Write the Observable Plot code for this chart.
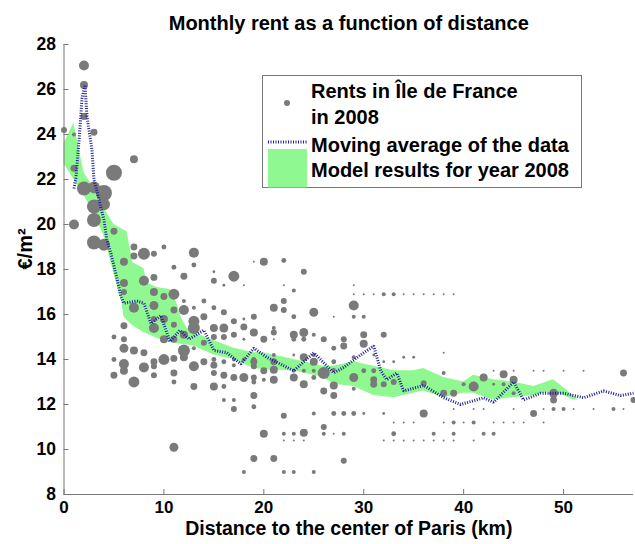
<!DOCTYPE html>
<html>
<head>
<meta charset="utf-8">
<script src="https://cdn.jsdelivr.net/npm/d3@7"></script>
<script src="https://cdn.jsdelivr.net/npm/@observablehq/plot@0.6"></script>
<style>
  body { margin: 0; background: #fff; }
  #wrap { position: relative; width: 635px; height: 544px; font-family: "Liberation Sans", Arial, sans-serif; }
  #legend { position: absolute; left: 262px; top: 75px; width: 320px; height: 113px; }
</style>
</head>
<body>
<div id="wrap">
  <div id="chart"></div>
  <div id="legend">
    <svg width="320" height="113" style="position:absolute;left:0;top:0" font-family="Liberation Sans, Arial, sans-serif" font-weight="bold" font-size="20">
      <rect x="0.5" y="0.5" width="319" height="112" fill="#fff" stroke="#777"/>
      <circle cx="25" cy="28" r="3" fill="#7a7a7a"/>
      <line x1="6" x2="45" y1="67" y2="67" stroke="#1c1c9c" stroke-width="3" stroke-dasharray="1,1.5"/>
      <rect x="6" y="74" width="39" height="38.5" fill="#90f890"/>
      <text x="49" y="23">Rents in Île de France</text>
      <text x="49" y="49">in 2008</text>
      <text x="49" y="77">Moving average of the data</text>
      <text x="49" y="102">Model results for year 2008</text>
    </svg>
  </div>
</div>
<script>
// ---- data ----
const titleText = "Monthly rent as a function of distance";
const xLabel = "Distance to the center of Paris (km)";
const yLabel = "€/m²";
const xTicks = [0, 10, 20, 30, 40, 50];
const yTicks = [8, 10, 12, 14, 16, 18, 20, 22, 24, 26, 28];

// observed rents: [distance km, rent €/m², weight]
const rents = [
  [2,27.07,25],[2,26.2,16],[2,24.8,12],[0,24.2,9],[1,24.0,4],[3,24.1,12],[7,22.9,16],[1,22.5,12],[5,22.3,64],
  [2,21.6,49],[3,21.65,36],[4,21.4,64],[3,20.8,49],[4,20.9,36],[1,20.0,25],[3,20.2,49],[5,19.7,12],[3,19.2,49],[4,19.1,36],
  [7,19.0,12],[8,18.7,36],[7,18.6,12],[9,18.7,9],[10,19.0,6],[13,18.75,25],[6,18.35,16],[11,18.1,6],[13,18.2,6],
  [17,17.7,30],[15,17.9,2],[15,17.5,9],[16,17.3,2],[12,17.7,12],[9,17.65,12],[8,17.5,25],[6,17.4,16],[18,17.3,1],
  [9,17.0,16],[11,16.9,30],[10,16.8,12],[6,17.0,9],[12,16.6,4],[14,16.6,6],[7,16.3,25],[9,16.4,20],[12,16.2,25],
  [11,16.2,12],[13,16.3,4],[15,16.3,6],[16,16.1,9],
  [10,15.8,16],[9,15.8,9],[13,15.7,30],[14,15.9,12],[17,15.7,9],[18,15.8,2],[19,15.9,4],
  [6,15.5,12],[9,15.4,25],[11,15.55,9],[13,15.4,36],[15,15.4,16],[16,15.4,20],[18,15.45,12],[19,15.2,12],
  [5,15.0,6],[6,14.9,9],[10,14.9,16],[11,14.9,12],[12,15.1,16],[15,15.0,9],[16,15.0,9],[17,15.1,9],[18,14.9,2],[19,15.1,2],[14,14.75,9],
  [6,14.5,20],[7,14.4,16],[8,14.3,12],[12,14.4,36],[13,14.5,4],
  [5,14.0,6],[9,13.9,12],[10,14.0,30],[11,14.05,12],[12,14.1,16],[14,13.9,12],[15,14.0,6],[16,13.9,6],[17,14.0,4],[18,14.0,4],[19,14.0,6],
  [6,13.8,25],[8,13.65,25],[9,13.7,9],[13,13.7,25],[15,13.75,12],[17,13.75,4],
  [5,13.3,12],[6,13.5,16],[9,13.3,9],[11,13.4,12],[15,13.4,9],[16,13.3,12],[17,13.2,12],[18,13.2,20],
  [7,13.0,30],[11,13.0,6],[13,12.8,12],[15,12.8,16],[16,12.8,6],[19,13.0,6],
  [16,12.2,4],[17,12.2,4],[17,11.8,9],[19,11.9,6],[11,10.1,20],[18,9.0,4],
  [20,18.35,16],[22,18.4,6],[19,18.35,1],[24,17.9,9],[22,17.3,1],[29,17.3,1],[23,17.07,4],
  [29,16.9,1],[30,16.9,1],[31,16.9,1],[32,16.9,4],[33,16.9,4],[34,16.9,1],[35,16.9,1],[36,16.9,1],[37,16.9,1],[38,16.9,1],[39,16.9,1],
  [29,16.4,25],[21,16.3,16],[22,16.6,9],[22,16.2,9],[25,16.1,20],[19,15.9,9],[23,15.9,6],[27,15.9,1],[29,15.9,4],[30,15.9,4],
  [21,15.4,4],[19,15.2,16],[21,15.2,9],[23,15.1,16],[24,15.2,20],[25,15.1,4],
  [20,14.9,12],[21,14.9,1],[23,14.9,6],[24,14.9,6],[26,14.9,9],[28,14.9,9],[28,14.6,12],[30,15.1,12],[30,14.7,16],[32,15.1,9],[27,14.5,6],
  [21,14.2,4],[24,14.1,16],[23,14.2,2],[25,14.2,4],[29,14.1,4],[31,14.2,2],[32,13.9,2],[33,13.9,2],[34,14.1,2],[35,14.1,2],
  [19,13.9,12],[21,13.9,12],[25,13.9,16],[27,13.9,6],
  [21,13.55,16],[23,13.5,4],[24,13.5,4],[25,13.5,4],[26,13.4,36],[27,13.55,4],[30,13.5,6],[31,13.5,6],[19,13.7,9],[20,13.5,12],
  [19,13.2,9],[20,13.1,4],[21,13.1,16],[23,13.2,16],[25,13.2,6],[29,13.2,20],[31,13.1,12],
  [24,12.9,16],[27,12.85,16],[31,12.9,12],[32,12.9,9],[33,13.0,9],[36,12.95,9],
  [29,12.7,4],[19,12.4,12],[26,12.6,12],[27,12.4,12],
  [22,11.5,9],[25,11.6,4],[27,11.6,6],[28,11.6,6],[29,11.6,6],[30,11.6,2],[32,11.6,2],[36,11.6,16],
  [33,11.2,1],[34,11.2,1],[35,11.2,1],[26,11.0,9],
  [20,10.7,16],[22,10.7,4],[23,10.7,4],[24,10.75,16],[26,10.7,4],[27,10.7,1],[28,10.7,4],[33,10.7,6],[37,10.7,4],
  [22,10.4,1],[23,10.4,1],[24,10.4,1],[32,10.4,1],[33,10.4,1],[34,10.4,1],[35,10.4,1],[36,10.4,1],[37,10.4,1],
  [19,9.6,12],[21,9.6,12],[28,9.5,9],[22,9.0,4],[23,9.0,4],[25,9.0,4],
  [38,14.3,1],[38,13.4,4],[43,13.5,1],[45,13.5,1],[47,13.5,1],[48,13.5,1],[50,13.5,1],[52,13.5,1],
  [42,13.2,16],[44,13.35,16],[45,13.1,16],[56,13.4,12],[41,12.8,25],[40,12.9,4],[43,12.9,2],[44,12.9,4],
  [38,12.5,12],[39,12.5,12],[45,12.5,4],[49,12.5,20],[49,12.2,12],[47,11.6,12],[57,12.2,9],
  [39,11.8,1],[41,11.8,1],[42,11.8,1],[45,11.8,1],[48,11.8,1],[49,11.8,4],[50,11.8,4],[51,11.8,1],[53,11.8,1],[55,11.8,4],[56,11.8,1],
  [38,11.2,1],[39,11.2,4],[40,11.2,1],[41,11.2,4],[43,11.2,1],[44,11.2,1],[45,11.2,1],[46,11.2,1],[48,11.2,1],
  [39,10.7,4],[42,10.7,4],[43,10.7,4],[38,10.4,1],[39,10.4,1],[41,10.4,1]
];

// moving average: [distance, rent]
const movingAvg = [
  [1.0,21.6],[1.2,22.1],[1.5,23.7],[1.8,25.6],[2.1,26.2],[2.3,24.8],[2.8,23.3],[3.0,22.0],[3.5,21.1],[4.0,20.2],
  [4.3,19.3],[4.7,18.7],[5.2,17.8],[5.7,16.8],[6.0,16.5],[7.3,16.6],[8.0,16.5],[8.7,15.6],[9.7,15.95],[10.6,14.8],
  [11.6,15.3],[12.5,14.9],[14,15.3],[15,14.4],[16.3,14.3],[17.7,13.8],[19,14.5],[20.3,14.1],[23,13.5],[25,14.3],
  [27,13.4],[28,13.65],[30,14.3],[31,14.6],[31.7,13.5],[32.3,13.1],[33.3,13.4],[34,12.6],[36,12.85],[38,12.3],
  [39.7,12.0],[42,12.3],[43,12.1],[45,13.0],[46,12.2],[47.7,12.5],[50,12.5],[52,12.3],[54,12.6],[55.7,12.4],[57,12.5]
];

// model band: [distance, low, high]
const modelBand = [
  [0,22.7,23.6],[1,22.0,24.5],[2,21.3,22.3],[3,20.5,21.6],[4,19.5,20.8],[4.3,19.0,20.5],[5,17.8,20.0],[5.8,16.5,19.8],
  [6,15.9,19.75],[6.3,15.75,19.7],[6.9,15.5,18.3],[8,15.2,18.05],[8.3,15.15,17.4],[9.3,14.95,17.2],[10.7,14.75,17.1],
  [11.3,14.7,16.5],[11.7,14.68,15.9],[12.3,14.65,15.4],[13,14.6,15.2],[15,14.2,14.85],[17,14.0,14.5],[19,13.6,14.3],
  [20,13.55,14.3],[23,13.5,14.0],[26,13.2,13.7],[27,12.9,13.7],[29,12.8,13.9],[31,12.4,13.7],[33,12.3,13.5],
  [35,12.5,13.5],[36,12.6,13.6],[38,12.3,13.2],[40,12.5,13.0],[41,12.5,13.3],[43,12.2,13.1],[45,12.3,13.0],
  [47,12.4,12.8],[49,12.6,13.1],[51,12.2,12.4],[51.5,12.2,12.2]
];

// ---- chart ----
const font = "Liberation Sans, Arial, sans-serif";
const chart = Plot.plot({
  width: 635,
  height: 544,
  marginTop: 44,
  marginBottom: 50,
  marginLeft: 63.5,
  marginRight: 2,
  style: { fontFamily: font, fontSize: "17px", fontWeight: "bold", color: "#000", background: "#fff" },
  x: { domain: [0, 57] },
  y: { domain: [8, 28] },
  r: { type: "sqrt", domain: [0, 64], range: [0, 8] },
  marks: [
    Plot.areaY(modelBand, { x: d => d[0], y1: d => d[1], y2: d => d[2], fill: "#90f890" }),
    Plot.dot(rents, { x: d => d[0], y: d => d[1], r: d => d[2], fill: "#7a7a7a", stroke: null }),
    Plot.line(movingAvg, { x: d => d[0], y: d => d[1], stroke: "#1c1c9c", strokeWidth: 3, strokeDasharray: "1,1.5", strokeLinecap: "butt", strokeLinejoin: "miter" }),
    Plot.ruleX([0], { stroke: "#777" }),
    Plot.ruleY([8], { stroke: "#777" }),
    Plot.axisX({ ticks: xTicks, tickSize: -5, tickPadding: 11, stroke: "#777", fontSize: 17, fontWeight: "bold", fill: "#000", label: null }),
    Plot.axisY({ ticks: yTicks, tickSize: -5, tickPadding: 13, stroke: "#777", fontSize: 17.5, fontWeight: "bold", fill: "#000", label: null }),
    Plot.text([xLabel], { frameAnchor: "bottom", dy: 40.5, fontSize: 19.5, fontWeight: "bold", fill: "#000" }),
    Plot.text([yLabel], { frameAnchor: "left", dx: -38, rotate: -90, fontSize: 20, fontWeight: "bold", fill: "#000" }),
    Plot.text([titleText], { frameAnchor: "top", dy: -29, fontSize: 20, fontWeight: "bold", fill: "#000" })
  ]
});
document.getElementById("chart").appendChild(chart);
</script>
</body>
</html>
